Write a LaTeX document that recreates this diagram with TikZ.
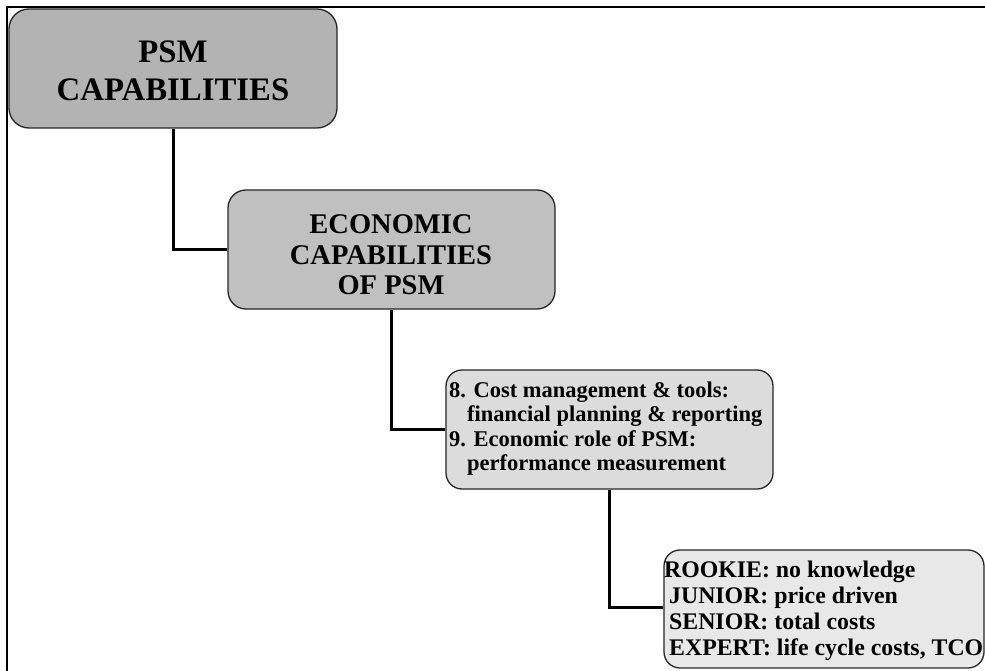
\documentclass[tikz,border=0pt]{standalone}
\usepackage{fontspec}
\setmainfont{Liberation Serif}
\definecolor{fillA}{HTML}{B3B3B3}
\definecolor{fillB}{HTML}{C0C0C0}
\definecolor{fillC}{HTML}{DCDCDC}
\definecolor{fillD}{HTML}{E8E8E8}
\definecolor{edge}{HTML}{262626}
\begin{document}
\begin{tikzpicture}[x=1pt,y=-1pt,
  capbox/.style={draw=edge, line width=1.3pt, inner sep=0pt},
  link/.style={draw=black, line width=3pt, line join=miter},
  frameline/.style={draw=black, line width=2.6pt},
  titletext/.style={inner sep=0pt, align=center},
  listtext/.style={anchor=north west, inner sep=0pt, align=left}]

\clip (0,0) rectangle (985,671);
\fill[white] (0,0) rectangle (985,671);

% outer frame (top and left only)
\draw[frameline] (985,7) -- (7,7) -- (7,671);

% boxes
\node[capbox, fill=fillA, rounded corners=20pt, minimum width=328pt, minimum height=119pt] (psm) at (173,68.5) {};
\node[capbox, fill=fillB, rounded corners=18pt, minimum width=327pt, minimum height=119pt] (econ) at (391.5,249.5) {};
\node[capbox, fill=fillC, rounded corners=16pt, minimum width=327pt, minimum height=119pt] (cost) at (609.5,429.5) {};
\node[capbox, fill=fillD, rounded corners=16pt, minimum width=320pt, minimum height=118pt] (level) at (824,609) {};

% box texts
\node[titletext, font=\bfseries\fontsize{32.8}{38}\selectfont] (psmtext) at (173,71) {PSM\\CAPABILITIES};
\node[titletext, font=\bfseries\fontsize{28.5}{30.5}\selectfont] (econtext) at (391,255) {ECONOMIC\\CAPABILITIES\\OF PSM};
\node[listtext, font=\bfseries\fontsize{22.5}{24.5}\selectfont] (costtext) at (449,381.5)
  {8. Cost management \& tools:\\
   \hspace*{18pt}financial planning \& reporting\\
   9. Economic role of PSM:\\
   \hspace*{18pt}performance measurement};
\node[listtext, font=\bfseries\fontsize{23.8}{26}\selectfont] (leveltext) at (664,561)
  {ROOKIE: no knowledge\\
   \hspace*{5pt}JUNIOR: price driven\\
   \hspace*{5pt}SENIOR: total costs\\
   \hspace*{5pt}EXPERT: life cycle costs, TCO};

% connectors
\draw[link] (psm.south) |- (econ.west);
\draw[link] (econ.south) |- (cost.west);
\draw[link] (cost.south) |- ([yshift=2pt]level.west);
\end{tikzpicture}
\end{document}
